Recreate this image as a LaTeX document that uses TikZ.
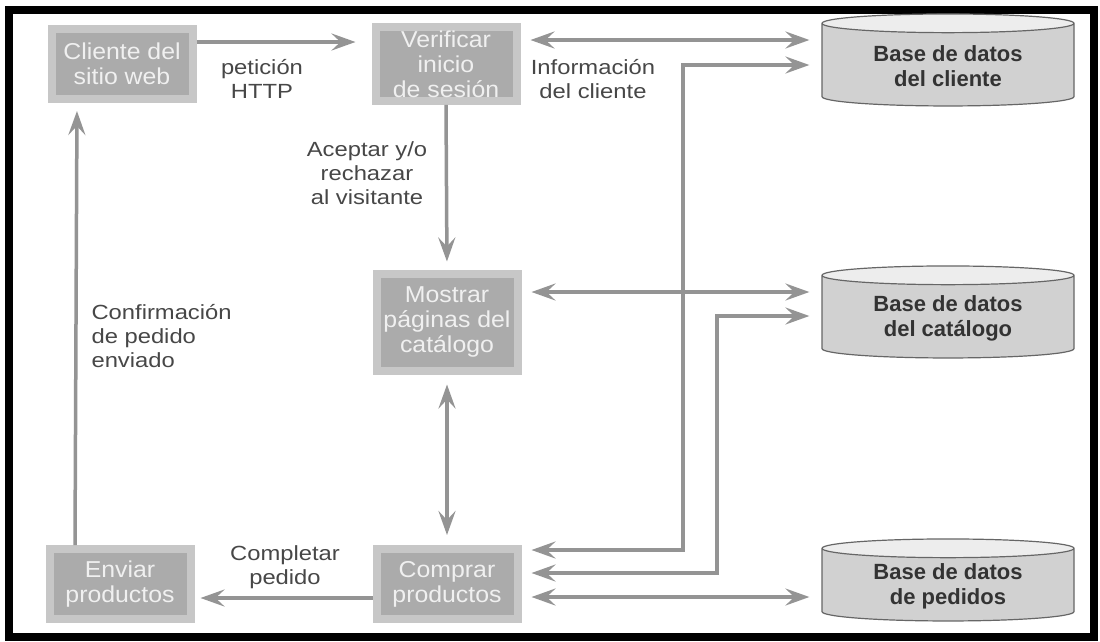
\documentclass[tikz,border=0pt]{standalone}
\usepackage{fontspec}
\setmainfont{Liberation Sans}
\newfontfamily\widefont[FakeStretch=1.16]{Liberation Sans}
\newfontfamily\boxfont[FakeStretch=1.08]{Liberation Sans}
\usetikzlibrary{arrows.meta}
\usetikzlibrary{shapes.geometric}
\tikzset{procbox/.style={draw=black!22, line width=8pt, fill=black!33, text=black!6, minimum width=141pt, minimum height=70pt, align=center, font=\boxfont\fontsize{23}{25}\selectfont}}
\tikzset{database/.style={cylinder, shape border rotate=90, aspect=0.12, draw=black!60, line width=1.2pt, cylinder uses custom fill, cylinder body fill=black!18, cylinder end fill=black!7, minimum width=252pt, minimum height=92pt, align=center, text=black!80, font=\fontsize{22}{25}\selectfont\bfseries}}
\tikzset{flowlabel/.style={align=center, text=black!72, font=\widefont\fontsize{20.5}{24}\selectfont}}
\tikzset{flow/.style={draw=black!42, line width=3.5pt, -{Stealth[length=24pt,width=17pt,inset=9pt]}, shorten >=10pt}}
\tikzset{flowboth/.style={draw=black!42, line width=3.5pt, {Stealth[length=24pt,width=17pt,inset=9pt]}-{Stealth[length=24pt,width=17pt,inset=9pt]}, shorten >=12pt, shorten <=10pt}}

\begin{document}
\begin{tikzpicture}[x=1pt, y=-1pt]

\fill[white] (0,0) rectangle (1100,641);
\useasboundingbox (0,0) rectangle (1100,641);
\draw[line width=8pt] (9,10) rectangle (1094,637);

\node[procbox] (cliente) at (122, 64) {Cliente del\\sitio web};
\node[procbox] (verificar) at (446, 64) {Verificar\\inicio\\de sesión};
\node[procbox, minimum height=97pt] (mostrar) at (447, 322) {Mostrar\\páginas del\\catálogo};
\node[procbox] (comprar) at (447, 584) {Comprar\\productos};
\node[procbox] (enviar) at (120, 584) {Enviar\\productos};

\node[database] (dbCliente) at (948, 66) {Base de datos\\del cliente};
\node[database] (dbCatalogo) at (948, 318) {Base de datos\\del catálogo};
\node[database, minimum height=82pt] (dbPedidos) at (948, 586) {Base de datos\\de pedidos};

\node[flowlabel] (lPeticion) at (262, 79) {petición\\HTTP};
\node[flowlabel] (lInfo) at (593, 79) {Información\\del cliente};
\node[flowlabel] (lAceptar) at (367, 173) {Aceptar y/o\\rechazar\\al visitante};
\node[flowlabel, align=left, anchor=west] (lConfirma) at (88, 336) {Confirmación\\de pedido\\enviado};
\node[flowlabel] (lCompletar) at (285, 567) {Completar\\pedido};

\coordinate (cliJoin) at (683, 65);
\coordinate (catJoin) at (717, 316);

\draw[flow, shorten >=16pt] ([yshift=22pt]cliente.east) to ([yshift=22pt]verificar.west);
\draw[flow, shorten >=8pt] (verificar.south) to (mostrar.north);
\draw[flowboth, shorten <=10pt, shorten >=10pt] (mostrar.south) to (comprar.north);
\draw[flow, shorten >=6pt] ([yshift=-14pt]comprar.west) to ([yshift=-14pt]enviar.east);
\draw[flow, shorten >=8pt] ([xshift=-45pt]enviar.north) to ([xshift=-45pt]cliente.south);

\draw[flowboth] ([yshift=24pt]verificar.east) to ([yshift=24pt]verificar.east -| dbCliente.west);
\draw[flowboth] ([yshift=34pt]comprar.east) -| (cliJoin) -- (cliJoin -| dbCliente.west);
\draw[flowboth] ([yshift=30pt]mostrar.east) to ([yshift=30pt]mostrar.east -| dbCatalogo.west);
\draw[flowboth] ([yshift=11pt]comprar.east) -| (catJoin) -- (catJoin -| dbCatalogo.west);
\draw[flowboth] ([yshift=-13pt]comprar.east) to ([yshift=-13pt]comprar.east -| dbPedidos.west);

\end{tikzpicture}
\end{document}
